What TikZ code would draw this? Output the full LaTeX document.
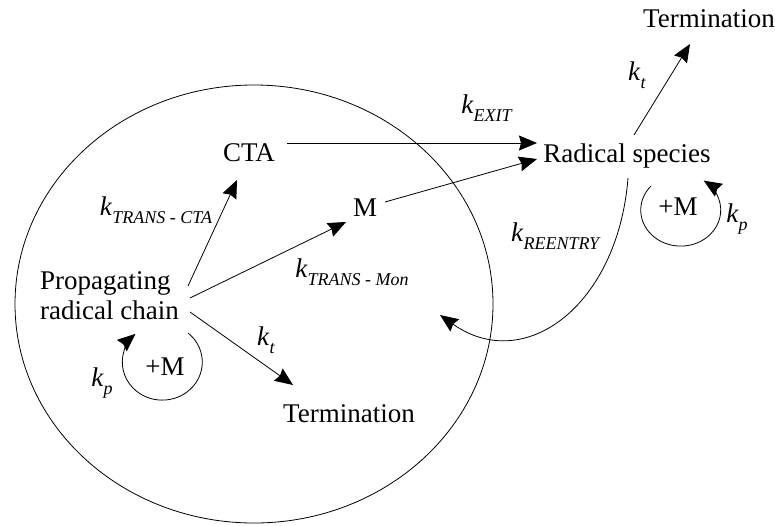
\documentclass[tikz,border=0pt]{standalone}
\usepackage{fontspec}
\setmainfont{Liberation Serif}
\usetikzlibrary{arrows.meta}
\newcommand{\kk}[1]{\textit{k}\raisebox{-8pt}{\fontsize{18}{18}\selectfont\textit{#1}}}
\begin{document}
\begin{tikzpicture}[x=1pt,y=-1pt,
  every node/.style={inner sep=0pt,font=\fontsize{27}{30}\selectfont},
  lbl/.style={anchor=base},
  conn/.style={line width=0.8pt,-{Stealth[length=18pt,width=15pt,inset=2pt]}},
  plain/.style={line width=0.8pt}]
\useasboundingbox (0,0) rectangle (775,525);
% particle
\draw[plain] (254,304) ellipse [x radius=239, y radius=219];
% nodes
\node[anchor=base west,align=left] (prop) at (40,319) {Propagating\\radical chain};
\node[lbl] (cta) at (249,161) {CTA};
\node[lbl] (m) at (365,216) {M};
\node[lbl] (rad) at (627,162) {Radical species};
\node[lbl] (termtop) at (709,27) {Termination};
\node[lbl] (termin) at (349,422) {Termination};
\node[lbl] (pmleft) at (165,375) {+M};
\node[lbl] (pmright) at (678,215) {+M};
% labels
\node[lbl] (kexit) at (487,113) {\kk{EXIT}};
\node[lbl] (kcta) at (156,215) {\kk{TRANS - CTA}};
\node[lbl] (kmon) at (352,277) {\kk{TRANS - Mon}};
\node[lbl] (kre) at (556,241) {\kk{REENTRY}};
\node[lbl] (kttop) at (637,80) {\kk{t}};
\node[lbl] (kpright) at (737,222) {\kk{p}};
\node[lbl] (ktin) at (266,345) {\kk{t}};
\node[lbl] (kpleft) at (102,386) {\kk{p}};
% connector end points
\coordinate (a1) at (188,286);
\coordinate (a2) at (237,180);
\coordinate (b1) at (190,298);
\coordinate (b2) at (346,222);
\coordinate (c1) at (190,312);
\coordinate (c2) at (293,385);
\coordinate (d1) at (287,143);
\coordinate (d2) at (537,143);
\coordinate (e1) at (385,202);
\coordinate (e2) at (537,159);
\coordinate (f1) at (634,135);
\coordinate (f2) at (690,44);
\coordinate (g1) at (628,178);
\coordinate (g2) at (440,315);
% arrows
\draw[conn] (a1) -- (a2);
\draw[conn] (b1) -- (b2);
\draw[conn] (c1) -- (c2);
\draw[conn] (d1) -- (d2);
\draw[conn] (e1) -- (e2);
\draw[conn] (f1) -- (f2);
\draw[conn] (g1) .. controls (618,305) and (525,375) .. (g2);
% loops
\draw[conn] (188,333) arc[start angle=-50, end angle=228, x radius=40, y radius=38];
\draw[conn] (651,186) arc[start angle=222, end angle=-55, x radius=40, y radius=36];
\end{tikzpicture}
\end{document}
